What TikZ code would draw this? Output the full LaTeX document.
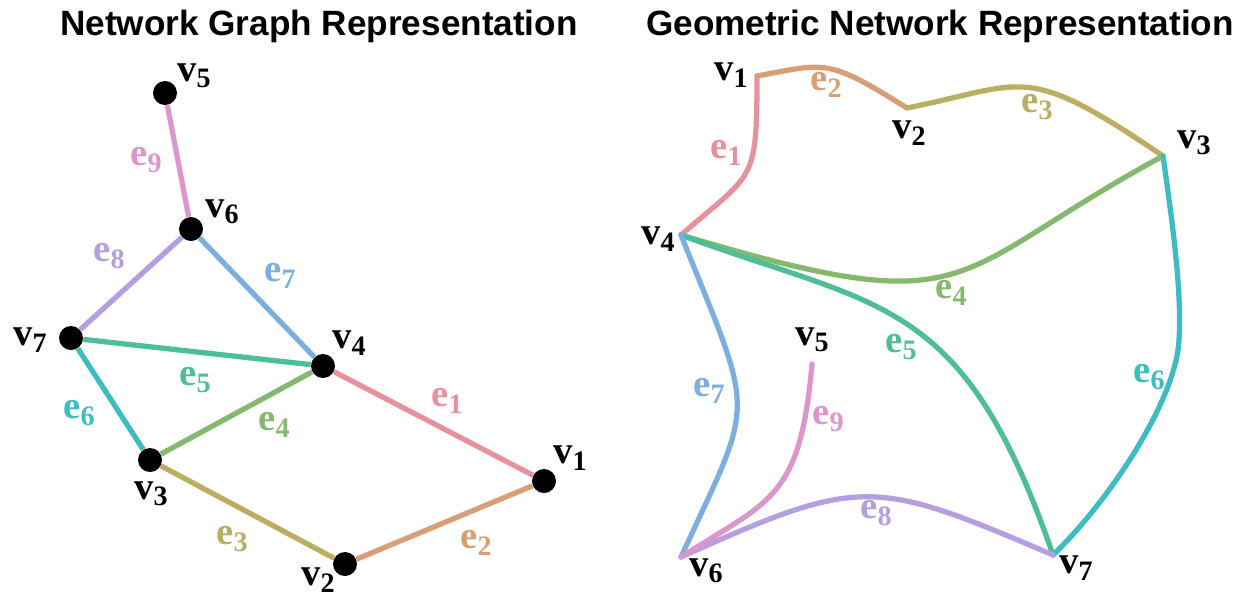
\documentclass[tikz,border=0pt]{standalone}
\usepackage{fontspec}
\setmainfont{Liberation Serif}
\newfontfamily\titlefont{Liberation Sans}
\definecolor{ce1}{HTML}{E7919F}
\definecolor{ce2}{HTML}{D89E76}
\definecolor{ce3}{HTML}{B9AE62}
\definecolor{ce4}{HTML}{86B970}
\definecolor{ce5}{HTML}{4DBE96}
\definecolor{ce6}{HTML}{3EBCC4}
\definecolor{ce7}{HTML}{7CAFDE}
\definecolor{ce8}{HTML}{B4A0E0}
\definecolor{ce9}{HTML}{DD96CD}
\newcommand\lab[2]{#1\raisebox{-3.7pt}{\fontsize{16}{16}\selectfont #2}}
\tikzset{
  dot/.style={circle,fill=black,inner sep=0pt,minimum size=0.48cm},
  gedge/.style={line width=3pt,line cap=butt},
  cedge/.style={line width=3pt,line cap=round},
  vlab/.style={inner sep=0pt,font=\fontsize{22}{22}\selectfont\bfseries},
  elab/.style={inner sep=0pt,font=\fontsize{22}{22}\selectfont\bfseries},
  ttl/.style={inner sep=0pt,anchor=base,font=\titlefont\fontsize{20}{20}\selectfont\bfseries}
}
\begin{document}
\begin{tikzpicture}[x=0.02cm,y=-0.02cm]
\useasboundingbox (0,0) rectangle (1244,596);
% titles
\node[ttl] (t1) at (319,35) {Network Graph Representation};
\node[ttl] (t2) at (940,35) {Geometric Network Representation};
% ---------- left: graph ----------
\node[dot] (a1) at (544,481) {};
\node[dot] (a2) at (345,564) {};
\node[dot] (a3) at (150,460) {};
\node[dot] (a4) at (323,366) {};
\node[dot] (a5) at (165,93) {};
\node[dot] (a6) at (191,229) {};
\node[dot] (a7) at (71,338) {};
\draw[gedge,ce1] (a4) -- (a1);
\draw[gedge,ce2] (a2) -- (a1);
\draw[gedge,ce3] (a3) -- (a2);
\draw[gedge,ce4] (a3) -- (a4);
\draw[gedge,ce5] (a7) -- (a4);
\draw[gedge,ce6] (a7) -- (a3);
\draw[gedge,ce7] (a6) -- (a4);
\draw[gedge,ce8] (a6) -- (a7);
\draw[gedge,ce9] (a5) -- (a6);
\node[vlab] (la1) at (570,458) {\lab{v}{1}};
\node[vlab] (la2) at (318,580) {\lab{v}{2}};
\node[vlab] (la3) at (151,494) {\lab{v}{3}};
\node[vlab] (la4) at (349,343) {\lab{v}{4}};
\node[vlab] (la5) at (194,76) {\lab{v}{5}};
\node[vlab] (la6) at (222,212) {\lab{v}{6}};
\node[vlab] (la7) at (30,340) {\lab{v}{7}};
\node[elab,ce1] (le1) at (447,401) {\lab{e}{1}};
\node[elab,ce2] (le2) at (476,543) {\lab{e}{2}};
\node[elab,ce3] (le3) at (232,539) {\lab{e}{3}};
\node[elab,ce4] (le4) at (274,425) {\lab{e}{4}};
\node[elab,ce5] (le5) at (195,380) {\lab{e}{5}};
\node[elab,ce6] (le6) at (79,413) {\lab{e}{6}};
\node[elab,ce7] (le7) at (280,276) {\lab{e}{7}};
\node[elab,ce8] (le8) at (109,256) {\lab{e}{8}};
\node[elab,ce9] (le9) at (146,160) {\lab{e}{9}};
% ---------- right: geometric network ----------
\coordinate (b1) at (757,76);
\coordinate (b2) at (907,108);
\coordinate (b3) at (1163,156);
\coordinate (b4) at (681,235);
\coordinate (b5) at (812,364);
\coordinate (b6) at (681,557);
\coordinate (b7) at (1053,555);
\coordinate (b36) at (1179,340);
\draw[cedge,ce1] (b1) .. controls (757,185) and (753,172) .. (b4);
\draw[cedge,ce2] (b1) .. controls (827,63) and (827,58) .. (b2);
\draw[cedge,ce3] (b2) .. controls (1027,84) and (1023,61) .. (b3);
\draw[cedge,ce4] (b4) .. controls (981,325) and (943,275) .. (b3);
\draw[cedge,ce5] (b4) .. controls (881,309) and (963,294) .. (b7);
\draw[cedge,ce6] (b3) .. controls (1172,220) and (1182,290) .. (b36)
                      .. controls (1176,400) and (1110,500) .. (b7);
\draw[cedge,ce7] (b4) .. controls (756,422) and (756,394) .. (b6);
\draw[cedge,ce8] (b6) .. controls (861,476) and (873,478) .. (b7);
\draw[cedge,ce9] (b5) .. controls (800,500) and (770,500) .. (b6);
\node[vlab] (lb1) at (731,75) {\lab{v}{1}};
\node[vlab] (lb2) at (909,133) {\lab{v}{2}};
\node[vlab] (lb3) at (1194,143) {\lab{v}{3}};
\node[vlab] (lb4) at (658,239) {\lab{v}{4}};
\node[vlab] (lb5) at (812,340) {\lab{v}{5}};
\node[vlab] (lb6) at (706,571) {\lab{v}{6}};
\node[vlab] (lb7) at (1076,568) {\lab{v}{7}};
\node[elab,ce1] (me1) at (726,153) {\lab{e}{1}};
\node[elab,ce2] (me2) at (826,85) {\lab{e}{2}};
\node[elab,ce3] (me3) at (1037,107) {\lab{e}{3}};
\node[elab,ce4] (me4) at (951,293) {\lab{e}{4}};
\node[elab,ce5] (me5) at (901,347) {\lab{e}{5}};
\node[elab,ce6] (me6) at (1149,377) {\lab{e}{6}};
\node[elab,ce7] (me7) at (709,391) {\lab{e}{7}};
\node[elab,ce8] (me8) at (876,513) {\lab{e}{8}};
\node[elab,ce9] (me9) at (828,419) {\lab{e}{9}};
\end{tikzpicture}
\end{document}
